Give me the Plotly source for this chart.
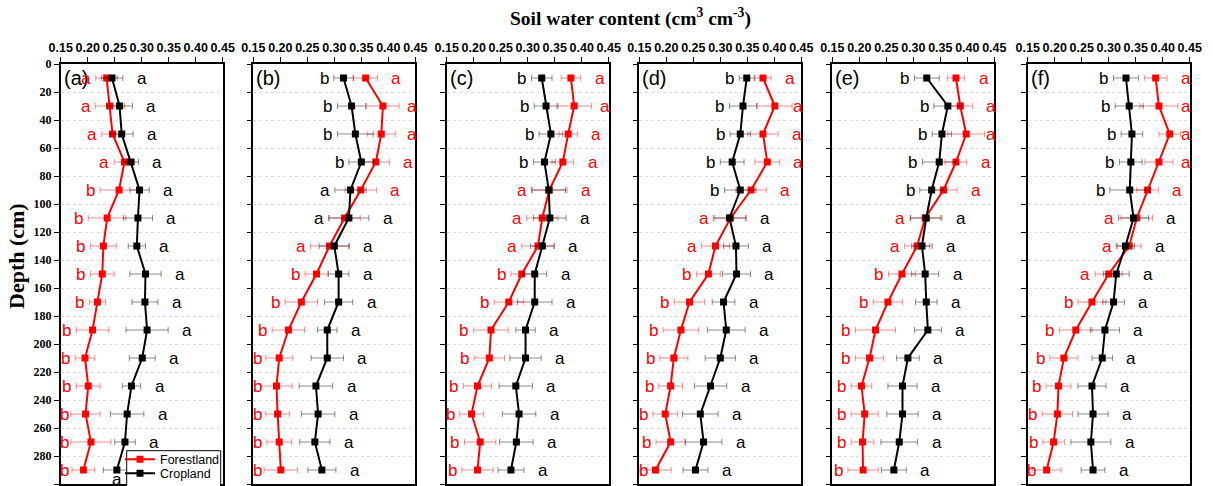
import plotly.graph_objects as go

# ---------------- data ----------------
depth = [10, 30, 50, 70, 90, 110, 130, 150, 170, 190, 210, 230, 250, 270, 290]
panel_names = ["(a)", "(b)", "(c)", "(d)", "(e)", "(f)"]
x_ticks = [0.15, 0.20, 0.25, 0.30, 0.35, 0.40, 0.45]
x_tick_text = ["0.15", "0.20", "0.25", "0.30", "0.35", "0.40", "0.45"]
y_ticks = [0, 20, 40, 60, 80, 100, 120, 140, 160, 180, 200, 220, 240, 260, 280, 300]

forest_a = [0.235, 0.241, 0.246, 0.268, 0.258, 0.236, 0.229, 0.227, 0.218, 0.209, 0.195, 0.201, 0.196, 0.206, 0.192]
forest_a_err = [0.020, 0.027, 0.020, 0.019, 0.035, 0.035, 0.024, 0.022, 0.015, 0.030, 0.018, 0.022, 0.027, 0.037, 0.021]
crop_a = [0.245, 0.259, 0.263, 0.280, 0.296, 0.293, 0.291, 0.307, 0.306, 0.310, 0.301, 0.281, 0.273, 0.269, 0.254]
crop_a_err = [0.020, 0.024, 0.021, 0.014, 0.018, 0.027, 0.016, 0.029, 0.024, 0.039, 0.024, 0.017, 0.031, 0.019, 0.025]
left_a = list("aaaabbbbbbbbbbb")
left_a_col = list("rrrrrrrrrrrrrrr")
right_a = list("aaaaaaaaaaaaaaa")
right_a_col = list("kkkkkkkkkkkkkkk")

forest_b = [0.358, 0.390, 0.387, 0.377, 0.349, 0.319, 0.291, 0.267, 0.239, 0.215, 0.198, 0.193, 0.195, 0.198, 0.201]
forest_b_err = [0.022, 0.030, 0.026, 0.025, 0.029, 0.029, 0.035, 0.021, 0.030, 0.030, 0.025, 0.029, 0.022, 0.023, 0.031]
crop_b = [0.317, 0.332, 0.339, 0.350, 0.330, 0.327, 0.300, 0.308, 0.308, 0.287, 0.287, 0.266, 0.270, 0.264, 0.277]
crop_b_err = [0.018, 0.026, 0.033, 0.023, 0.029, 0.037, 0.028, 0.019, 0.026, 0.018, 0.030, 0.031, 0.031, 0.028, 0.026]
left_b = list("bbbbaaabbbbbbbb")
left_b_col = list("kkkkkkrrrrrrrrr")
right_b = list("aaaaaaaaaaaaaaa")
right_b_col = list("rrrrrkkkkkkkkkk")

forest_c = [0.380, 0.386, 0.375, 0.365, 0.340, 0.327, 0.319, 0.289, 0.265, 0.232, 0.229, 0.207, 0.196, 0.212, 0.207]
forest_c_err = [0.018, 0.032, 0.017, 0.020, 0.033, 0.029, 0.030, 0.020, 0.027, 0.032, 0.028, 0.026, 0.022, 0.029, 0.029]
crop_c = [0.326, 0.334, 0.343, 0.331, 0.339, 0.341, 0.327, 0.313, 0.313, 0.296, 0.296, 0.278, 0.284, 0.279, 0.269]
crop_c_err = [0.019, 0.022, 0.022, 0.020, 0.031, 0.030, 0.022, 0.022, 0.032, 0.018, 0.029, 0.031, 0.031, 0.031, 0.024]
left_c = list("bbbbaaabbbbbbbb")
left_c_col = list("kkkkrrrrrrrrrrr")
right_c = list("aaaaaaaaaaaaaaa")
right_c_col = list("rrrrrkkkkkkkkkk")

forest_d = [0.379, 0.401, 0.379, 0.387, 0.357, 0.319, 0.291, 0.278, 0.243, 0.227, 0.214, 0.208, 0.198, 0.208, 0.180]
forest_d_err = [0.015, 0.032, 0.028, 0.023, 0.028, 0.029, 0.026, 0.022, 0.028, 0.033, 0.026, 0.022, 0.023, 0.027, 0.029]
crop_d = [0.349, 0.342, 0.337, 0.322, 0.337, 0.317, 0.329, 0.330, 0.306, 0.311, 0.300, 0.282, 0.263, 0.269, 0.254]
crop_d_err = [0.014, 0.025, 0.019, 0.022, 0.029, 0.030, 0.023, 0.026, 0.021, 0.035, 0.028, 0.030, 0.033, 0.034, 0.023]
left_d = list("bbbbbaabbbbbbbb")
left_d_col = list("kkkkkrrrrrrrrrr")
right_d = list("aaaaaaaaaaaaaaa")
right_d_col = list("rrrrrkkkkkkkkkk")

forest_e = [0.379, 0.387, 0.398, 0.379, 0.356, 0.322, 0.307, 0.279, 0.253, 0.230, 0.219, 0.204, 0.210, 0.206, 0.207]
forest_e_err = [0.016, 0.023, 0.034, 0.020, 0.025, 0.028, 0.023, 0.025, 0.027, 0.037, 0.026, 0.019, 0.025, 0.021, 0.028]
crop_e = [0.325, 0.364, 0.353, 0.348, 0.334, 0.324, 0.316, 0.322, 0.324, 0.327, 0.290, 0.280, 0.280, 0.274, 0.264]
crop_e_err = [0.023, 0.026, 0.018, 0.031, 0.022, 0.029, 0.019, 0.025, 0.020, 0.025, 0.021, 0.027, 0.029, 0.034, 0.023]
left_e = list("bbbbbaabbbbbbbb")
left_e_col = list("kkkkkrrrrrrrrrr")
right_e = list("aaaaaaaaaaaaaaa")
right_e_col = list("rrrrrkkkkkkkkkk")

forest_f = [0.387, 0.393, 0.413, 0.393, 0.372, 0.352, 0.338, 0.300, 0.269, 0.239, 0.217, 0.207, 0.205, 0.198, 0.185]
forest_f_err = [0.021, 0.035, 0.020, 0.026, 0.020, 0.029, 0.022, 0.025, 0.026, 0.030, 0.026, 0.023, 0.028, 0.020, 0.027]
crop_f = [0.332, 0.338, 0.343, 0.341, 0.339, 0.346, 0.331, 0.314, 0.309, 0.293, 0.288, 0.269, 0.271, 0.267, 0.271]
crop_f_err = [0.023, 0.026, 0.020, 0.021, 0.037, 0.028, 0.017, 0.024, 0.020, 0.027, 0.019, 0.026, 0.028, 0.037, 0.022]
left_f = list("bbbbbaaabbbbbbb")
left_f_col = list("kkkkkrrrrrrrrrr")
right_f = list("aaaaaaaaaaaaaaa")
right_f_col = list("rrrrrkkkkkkkkkk")

panels = [
    (forest_a, forest_a_err, crop_a, crop_a_err, left_a, left_a_col, right_a, right_a_col),
    (forest_b, forest_b_err, crop_b, crop_b_err, left_b, left_b_col, right_b, right_b_col),
    (forest_c, forest_c_err, crop_c, crop_c_err, left_c, left_c_col, right_c, right_c_col),
    (forest_d, forest_d_err, crop_d, crop_d_err, left_d, left_d_col, right_d, right_d_col),
    (forest_e, forest_e_err, crop_e, crop_e_err, left_e, left_e_col, right_e, right_e_col),
    (forest_f, forest_f_err, crop_f, crop_f_err, left_f, left_f_col, right_f, right_f_col),
]

# ---------------- layout geometry ----------------
W, H = 1213, 486
MT, MB = 64, 2
PH = H - MT - MB
panel_left_px = [60.7, 253.3, 446.7, 639.3, 832.3, 1027.7]
panel_w_px = 162.0


def py(px):
    """pixel row (from top) -> paper y"""
    return (H - MB - px) / PH


RED = "#ff0000"
BLACK = "#000000"
COL = {"r": RED, "k": BLACK}
SANS = "Liberation Sans"
SERIF = "Liberation Serif"

fig = go.Figure()
annotations = []
layout_axes = {}

for i, (fv, fe, cv, ce, lt, lc, rt, rc) in enumerate(panels):
    n = "" if i == 0 else str(i + 1)
    xa, ya = "x" + n, "y" + n
    fig.add_trace(go.Scatter(
        x=fv, y=depth, xaxis=xa, yaxis=ya, name="Forestland",
        mode="lines+markers", line=dict(color=RED, width=2),
        marker=dict(symbol="square", size=7, color=RED),
        error_x=dict(type="data", array=fe, color="rgba(255,0,0,0.45)", thickness=1, width=3),
        showlegend=(i == 0), legend="legend", cliponaxis=False))
    fig.add_trace(go.Scatter(
        x=cv, y=depth, xaxis=xa, yaxis=ya, name="Cropland",
        mode="lines+markers", line=dict(color=BLACK, width=2),
        marker=dict(symbol="square", size=7, color=BLACK),
        error_x=dict(type="data", array=ce, color="rgba(0,0,0,0.45)", thickness=1, width=3),
        showlegend=(i == 0), legend="legend2", cliponaxis=False))

    x0 = panel_left_px[i] / W
    x1 = (panel_left_px[i] + panel_w_px) / W
    layout_axes["xaxis" + n] = dict(
        domain=[x0, x1], anchor=ya, side="top", range=[0.15, 0.45], autorange=False,
        tickvals=x_ticks, ticktext=x_tick_text, ticks="outside", ticklen=5, tickwidth=1.2,
        tickcolor="black", showline=True, linecolor="black", linewidth=1.5, mirror=True,
        showgrid=False, zeroline=False,
        tickfont=dict(family=SANS, size=12.5, color="black", weight="bold"))
    layout_axes["yaxis" + n] = dict(
        domain=[0, 1], anchor=xa, range=[300, 0], autorange=False,
        tickvals=y_ticks, ticks="outside", ticklen=5, tickwidth=1.2, tickcolor="black",
        showticklabels=(i == 0), showline=True, linecolor="black", linewidth=1.5, mirror=True,
        showgrid=True, gridcolor="#dcdcdc", griddash="dot", gridwidth=1, zeroline=False,
        tickfont=dict(family=SERIF, size=12, color="black", weight="bold"))

    # panel tag
    annotations.append(dict(
        text=panel_names[i], xref=xa + " domain", yref=ya, x=0.005, y=10,
        xanchor="left", yanchor="middle", showarrow=False,
        font=dict(family=SANS, size=20, color="black")))

    # significance letters
    for j, d in enumerate(depth):
        lo = min(fv[j] - fe[j], cv[j] - ce[j]) - 0.018
        hi = max(fv[j] + fe[j], cv[j] + ce[j]) + 0.035
        lo = max(lo, 0.157)
        hi = min(hi, 0.443)
        yd = d
        annotations.append(dict(
            text=lt[j], xref=xa, yref=ya, x=lo, y=yd, xanchor="center", yanchor="middle",
            showarrow=False, font=dict(family=SANS, size=17, color=COL[lc[j]])))
        rx = hi
        if i == 0 and j == len(depth) - 1:
            # last letter of panel (a) sits below the point (legend occupies the right)
            rx, yd = cv[j], 297
        annotations.append(dict(
            text=rt[j], xref=xa, yref=ya, x=rx, y=yd, xanchor="center", yanchor="middle",
            showarrow=False, font=dict(family=SANS, size=17, color=COL[rc[j]])))

# titles
annotations.append(dict(
    text="Soil water content (cm<sup>3</sup> cm<sup>-3</sup>)", xref="paper", yref="paper",
    x=630 / W, y=py(18), xanchor="center", yanchor="middle",
    showarrow=False, font=dict(family=SERIF, size=19.5, color="black", weight="bold")))
annotations.append(dict(
    text="Depth (cm)", xref="paper", yref="paper", textangle=-90,
    x=16 / W, y=py(256), xanchor="center", yanchor="middle",
    showarrow=False, font=dict(family=SERIF, size=22, color="black", weight="bold")))

# legend frame (white box with black border)
shapes = [dict(type="rect", xref="paper", yref="paper", layer="above",
               x0=126.7 / W, x1=220.7 / W, y0=py(492), y1=py(450.7),
               fillcolor="white", line=dict(color="black", width=1))]

leg_common = dict(xanchor="left", yanchor="middle", bgcolor="rgba(0,0,0,0)",
                  borderwidth=0, font=dict(family=SANS, size=12.5, color="black"),
                  itemwidth=30, tracegroupgap=0)

fig.update_layout(
    width=W, height=H,
    margin=dict(l=0, r=0, t=MT, b=MB, autoexpand=False),
    paper_bgcolor="white", plot_bgcolor="white",
    showlegend=True,
    legend=dict(x=120 / W, y=py(459.5), **leg_common),
    legend2=dict(x=120 / W, y=py(473.5), **leg_common),
    annotations=annotations,
    shapes=shapes,
    **layout_axes)

fig.write_html("out.html")
